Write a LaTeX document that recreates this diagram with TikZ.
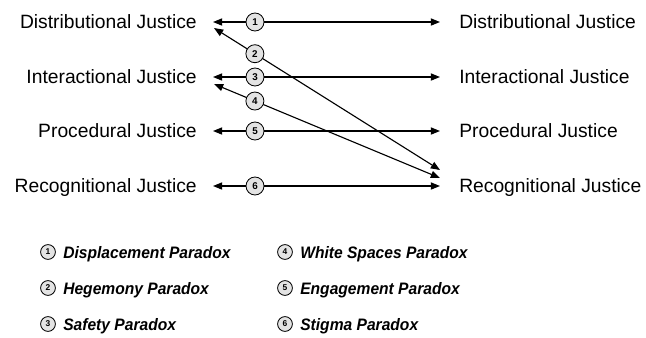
\documentclass[tikz,border=0pt]{standalone}
\usepackage{fontspec}
\setmainfont{Liberation Sans}
\newfontfamily\keyfont[FakeStretch=0.94]{Liberation Sans}
\usetikzlibrary{arrows.meta,positioning}
\begin{document}
\begin{tikzpicture}[
            x = 0.025cm, y = -0.025cm,
            every node/.style={text depth=0pt},
            lab/.style={font=\fontsize{13.7}{16}\selectfont, inner sep=0},
            line/.style={line width=.8pt, {Triangle[length=2.3mm,width=1.8mm]}-{Triangle[length=2.3mm,width=1.8mm]}},
            num/.style={circle, draw, fill=gray!22, line width=.6pt, inner sep=0, minimum size=.45cm, font=\fontsize{7}{7}\selectfont\bfseries},
            keynum/.style={num, minimum size=.37cm, font=\fontsize{6}{6}\selectfont\bfseries},
            key/.style={font=\keyfont\fontsize{11.8}{14}\selectfont\bfseries\itshape, inner sep=0},
            ]
        \useasboundingbox (0,0) rectangle (646,337);

        \node[lab, anchor=east] (dL) at (197,22) {Distributional Justice};
        \node[lab, anchor=east] (iL) at (197,77) {Interactional Justice};
        \node[lab, anchor=east] (pL) at (197,131) {Procedural Justice};
        \node[lab, anchor=east] (rL) at (197,186) {Recognitional Justice};

        \node[lab, anchor=west] (dR) at (459,22) {Distributional Justice};
        \node[lab, anchor=west] (iR) at (459,77) {Interactional Justice};
        \node[lab, anchor=west] (pR) at (459,131) {Procedural Justice};
        \node[lab, anchor=west] (rR) at (459,186) {Recognitional Justice};

        \draw[line] ([shift={(16,0)}]dL.east) -- node[num, pos=.185] (n1) {1} ([shift={(-19,0)}]dR.west);
        \draw[line] ([shift={(16,0)}]iL.east) -- node[num, pos=.185] (n3) {3} ([shift={(-19,0)}]iR.west);
        \draw[line] ([shift={(16,0)}]pL.east) -- node[num, pos=.185] (n5) {5} ([shift={(-19,0)}]pR.west);
        \draw[line] ([shift={(16,0)}]rL.east) -- node[num, pos=.185] (n6) {6} ([shift={(-19,0)}]rR.west);
        \draw[line] ([shift={(17,6)}]dL.east) -- node[num, pos=.181] (n2) {2} ([shift={(-19,-16)}]rR.west);
        \draw[line] ([shift={(17,7)}]iL.east) -- node[num, pos=.181] (n4) {4} ([shift={(-19,-8)}]rR.west);

        \node[keynum] (k1) at (48,252) {1};
        \node[keynum] (k2) at (48,288) {2};
        \node[keynum] (k3) at (48,324) {3};
        \node[keynum] (k4) at (285,252) {4};
        \node[keynum] (k5) at (285,288) {5};
        \node[keynum] (k6) at (285,324) {6};
        \node[key, right=.18cm of k1] (p1) {Displacement Paradox};
        \node[key, right=.18cm of k2] (p2) {Hegemony Paradox};
        \node[key, right=.18cm of k3] (p3) {Safety Paradox};
        \node[key, right=.18cm of k4] (p4) {White Spaces Paradox};
        \node[key, right=.18cm of k5] (p5) {Engagement Paradox};
        \node[key, right=.18cm of k6] (p6) {Stigma Paradox};
    \end{tikzpicture}
\end{document}
